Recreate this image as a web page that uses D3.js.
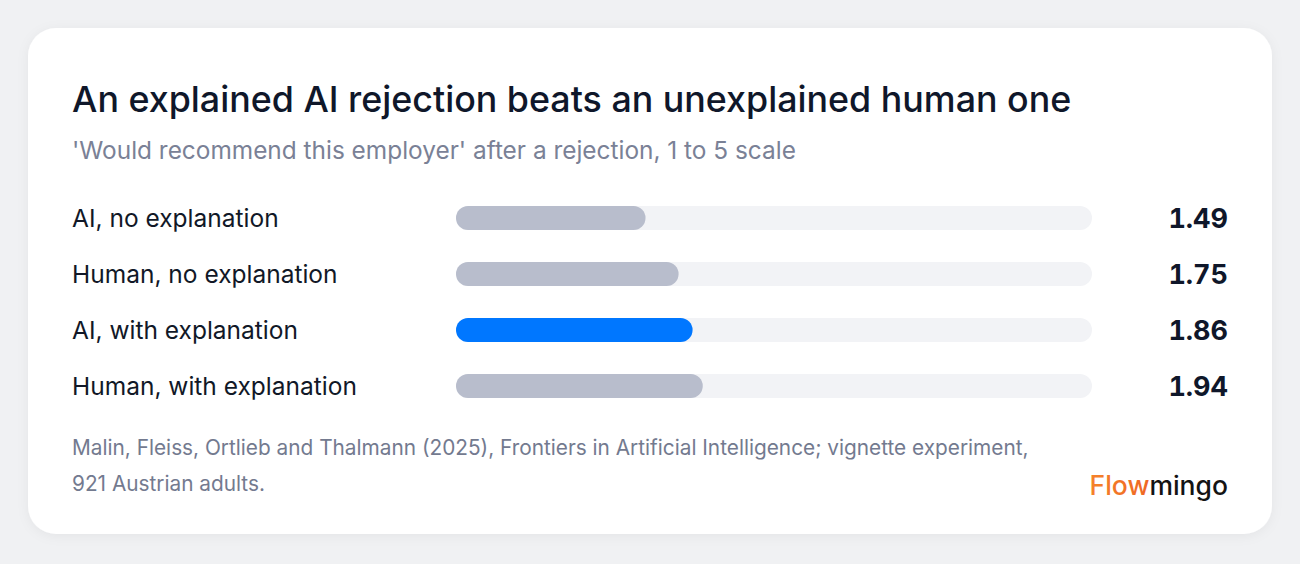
<!DOCTYPE html>
<html><head><meta charset="utf-8">
<script src="https://cdn.jsdelivr.net/npm/d3@7"></script>
<style>
html,body{margin:0;padding:0;background:#f0f1f3;}
svg{display:block;font-family:Inter,"Noto Sans",sans-serif;}
.val{font-variant-numeric:tabular-nums;font-feature-settings:"tnum" 1;}
</style></head>
<body>
<svg id="chart" width="1300" height="564"></svg>
<script>
const categories = ["AI, no explanation","Human, no explanation","AI, with explanation","Human, with explanation"];
const values = [1.49, 1.75, 1.86, 1.94];
const highlight = [false, false, true, false];
const scaleMax = 5;
const title = "An explained AI rejection beats an unexplained human one";
const subtitle = "'Would recommend this employer' after a rejection, 1 to 5 scale";
const sourceLines = ["Malin, Fleiss, Ortlieb and Thalmann (2025), Frontiers in Artificial Intelligence; vignette experiment,","921 Austrian adults."];

const svg = d3.select("#chart");
const defs = svg.append("defs");
const f = defs.append("filter").attr("id","sh").attr("x","-10%").attr("y","-10%").attr("width","120%").attr("height","130%");
f.append("feDropShadow").attr("dx",0).attr("dy",2).attr("stdDeviation",6).attr("flood-color","#000").attr("flood-opacity",0.05);
const g = defs.append("linearGradient").attr("id","flow").attr("x1","0").attr("x2","1");
g.append("stop").attr("offset","0").attr("stop-color","#f5822a");
g.append("stop").attr("offset","1").attr("stop-color","#e6431c");

svg.append("rect").attr("x",28).attr("y",28).attr("width",1244).attr("height",506).attr("rx",28).attr("fill","#fff").attr("filter","url(#sh)");

svg.append("text").attr("x",72).attr("y",112).attr("font-size",35.8).attr("font-weight",500).attr("fill","#0f172a").text(title);
svg.append("text").attr("x",72).attr("y",159).attr("font-size",24.4).attr("fill","#7a8196").text(subtitle);

const x = d3.scaleLinear().domain([0, scaleMax]).range([456, 1092]);
const y = d3.scaleBand().domain(categories).range([190, 414]).paddingInner(0);
const bh = 24;

const rows = svg.append("g").selectAll("g").data(categories).join("g")
  .attr("transform", d => `translate(0,${y(d) + y.bandwidth()/2})`);

rows.append("text").attr("x",72).attr("y",9).attr("font-size",24.5).attr("fill","#111827").text(d => d);
rows.append("rect").attr("x",x(0)).attr("y",-bh/2).attr("width",x(scaleMax)-x(0)).attr("height",bh).attr("rx",bh/2).attr("fill","#f2f3f6");
rows.append("rect").attr("x",x(0)).attr("y",-bh/2).attr("width",(d,i)=>x(values[i])-x(0)).attr("height",bh).attr("rx",bh/2)
  .attr("fill",(d,i)=>highlight[i] ? "#0077ff" : "#b8bdcc");
rows.append("text").attr("class","val").attr("x",1228).attr("y",10).attr("text-anchor","end").attr("font-size",27).attr("font-weight",700).attr("fill","#0f172a").text((d,i)=>values[i].toFixed(2));

const src = svg.append("text").attr("font-size",20.8).attr("fill","#737a8f");
sourceLines.forEach((l,i)=> src.append("tspan").attr("x",72).attr("y",455 + i*36).text(l));

const logo = svg.append("text").attr("x",1228).attr("y",495).attr("text-anchor","end").attr("font-size",26.5).attr("font-weight",500);
logo.append("tspan").attr("fill","url(#flow)").text("Flow");
logo.append("tspan").attr("fill","#141414").text("mingo");
</script>
</body></html>
